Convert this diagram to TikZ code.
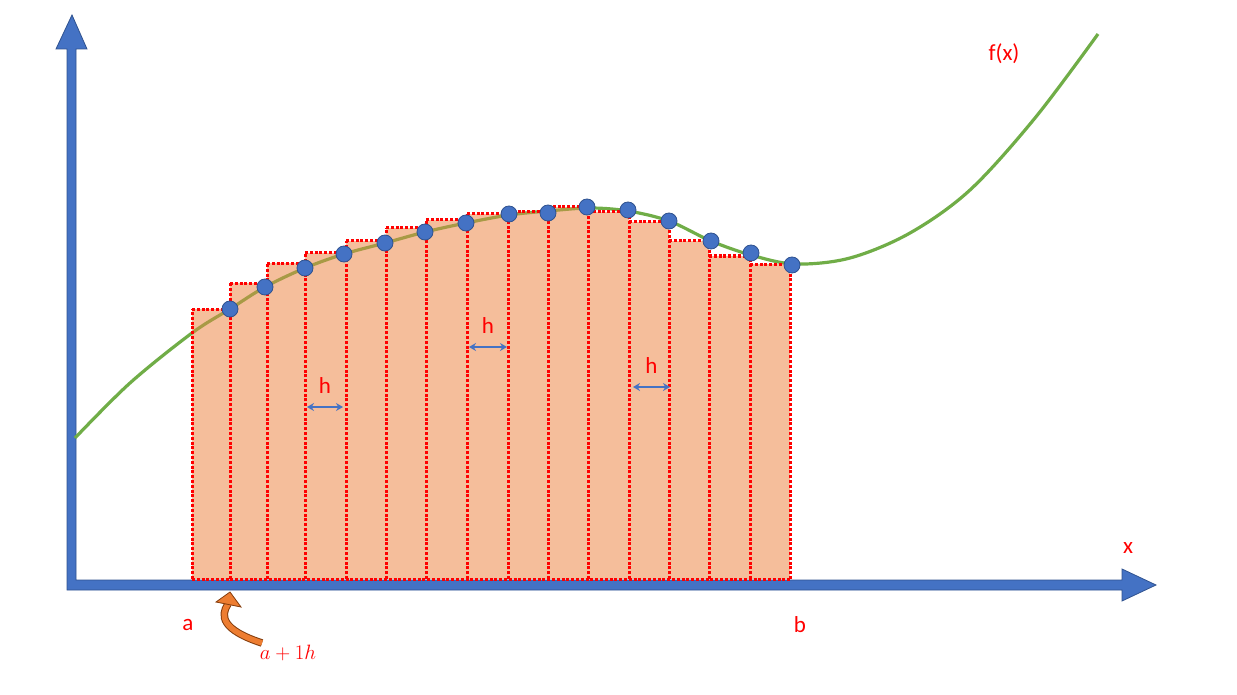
\documentclass[tikz,border=0pt]{standalone}
\usepackage{fontspec}
\setmainfont{Carlito}
\usetikzlibrary{arrows.meta,positioning,calc}
\definecolor{axisblue}{HTML}{4472C4}
\definecolor{axisedge}{HTML}{2F528F}
\definecolor{curvegreen}{HTML}{70AD47}
\definecolor{curveolive}{HTML}{A89A45}
\definecolor{barfill}{HTML}{F5BE9B}
\definecolor{barred}{HTML}{FF0000}
\definecolor{hookorange}{HTML}{ED7D31}
\definecolor{hookedge}{HTML}{843C0C}
\tikzset{
  axisbody/.style={fill=axisblue,draw=axisedge,line width=0.8pt,line join=miter},
  bar/.style={fill=barfill},
  barline/.style={draw=barred,line width=3pt,dash pattern=on 3pt off 1.8pt},
  sample/.style={circle,fill=axisblue,draw=axisedge,line width=0.8pt,
                 minimum width=15pt,minimum height=16pt,inner sep=0pt},
  fcurve/.style={line width=3.2pt,smooth,tension=0.55},
  harrow/.style={{Stealth[length=7pt,width=8pt]}-{Stealth[length=7pt,width=8pt]},
                 line width=2.8pt,draw=axisblue},
  lbl/.style={text=barred,font=\fontsize{23}{27}\selectfont,inner sep=0pt}
}
\begin{document}
\begin{tikzpicture}[x=1pt,y=-1pt]
  \useasboundingbox (0,0) rectangle (1237,695);
  % axes as one block shape
  \path[axisbody] (67,590) -- (67,49) -- (56,49) -- (72,15) -- (87,49) -- (76,49)
    -- (76,580) -- (1122,580) -- (1122,569) -- (1156,585) -- (1122,601)
    -- (1122,590) -- cycle;
  % the function
  \def\fpoints{(75,438) (130,383) (192,333) (230,309) (265,287) (305,268) (344,254)
    (385,243) (425,232) (466,223) (509,215) (548,211) (590,208) (628,211)
    (669,221) (711,241) (751,255) (795,264) (850,258) (910,233) (970,190)
    (1035,118) (1098,34)}
  \draw[fcurve,curvegreen] plot coordinates {\fpoints};
  % bars (right end points)
  \def\bars{192/230/309, 230/267/283, 267/305/263, 305/346/253, 346/386/241,
    386/426/228, 426/467/220, 467/508/214, 508/548/212, 548/588/207,
    588/629/212, 629/669/222, 669/709/241, 709/750/256, 750/790/264}
  \foreach \xl/\xr/\yt in \bars {
    \fill[bar] (\xl,579) rectangle (\xr,\yt);
  }
  \begin{scope}
    \clip (192,579) -- (192,309) \foreach \xl/\xr/\yt in \bars {-- (\xl,\yt) -- (\xr,\yt)}
      -- (790,579) -- cycle;
    \draw[fcurve,curveolive] plot coordinates {\fpoints};
  \end{scope}
  % dotted outlines, each edge once
  \foreach \xe/\ye in {192/309, 230/283, 267/263, 305/253, 346/241, 386/228,
      426/220, 467/214, 508/212, 548/207, 588/207, 629/212, 669/222,
      709/241, 750/256, 790/264}
    \draw[barline] (\xe,579) -- (\xe,\ye);
  \foreach \xl/\xr/\yt in \bars
    \draw[barline] (\xl,\yt) -- (\xr,\yt);
  \draw[barline] (192,579) -- (790,579);
  % sample points
  \foreach \px/\py [count=\i] in {230/309, 265/287, 305/268, 344/254, 385/243,
      425/232, 466/223, 509/214, 548/213, 587/207, 628/210, 669/221,
      711/241, 751/253, 792/265}
    \node[sample] (d\i) at (\px,\py) {};
  % step width markers
  \foreach \xa/\xb/\yh [count=\i] in {307/343/407, 469/507/347, 633/670/387} {
    \coordinate (hl\i) at (\xa,\yh);
    \coordinate (hr\i) at (\xb,\yh);
    \node[lbl] (h\i) at ($(hl\i)!0.5!(hr\i)+(0,-21)$) {h};
    \draw[harrow] (hl\i) -- (hr\i);
  }
  % labels
  \node[lbl] (fx) at (1004,54) {f(x)};
  \node[lbl] (xlab) at (1128,548) {x};
  \node[lbl] (alab) at (188,625) {a};
  \node[lbl] (blab) at (800,625) {b};
  \node[text=barred,inner sep=0pt,font=\fontsize{22}{26}\selectfont] (a1h) at (288,653)
    {$a+1h$};
  % curved pointer to a+1h
  \coordinate (hooktail) at (262,643);
  \coordinate (hookbase) at (228,604);
  \draw[hookedge,line width=7.5pt] (hooktail) .. controls (222,630) and (220,616) .. (hookbase);
  \draw[hookorange,line width=5.5pt] (hooktail) .. controls (222,630) and (220,616) .. (hookbase);
  \filldraw[fill=hookorange,draw=hookedge,line width=0.8pt]
    (216,602) -- (230,592) -- (241,607) -- cycle;
\end{tikzpicture}
\end{document}
